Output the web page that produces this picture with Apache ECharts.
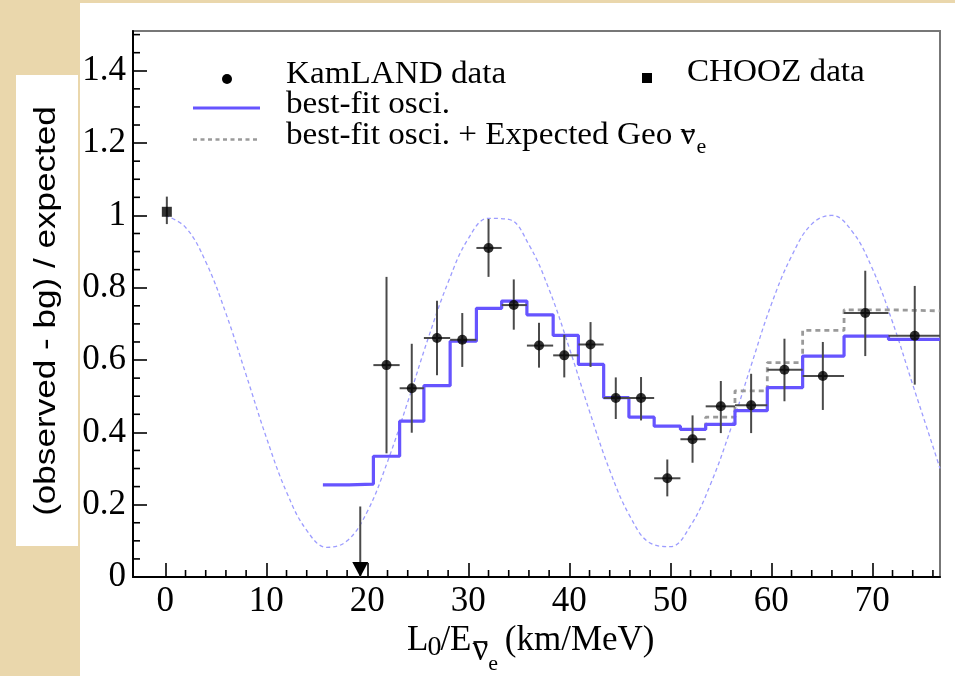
<!DOCTYPE html>
<html><head><meta charset="utf-8">
<script src="https://cdn.jsdelivr.net/npm/echarts@6/dist/echarts.min.js"></script>
<style>html,body{margin:0;padding:0;background:#fff}#c{width:955px;height:676px}</style>
</head><body><div id="c"></div>
<script>
// ---- data ----
const kamX  = [21.9,24.4,26.9,29.4,32.0,34.5,37.0,39.5,42.1,44.6,47.1,49.7,52.2,55.0,58.0,61.3,65.1,69.3,74.2];
const kamY  = [0.586,0.522,0.661,0.656,0.910,0.752,0.640,0.613,0.643,0.495,0.495,0.273,0.381,0.472,0.475,0.573,0.556,0.730,0.667];
const kamLo = [0.342,0.399,0.558,0.581,0.830,0.684,0.579,0.552,0.581,0.437,0.433,0.223,0.316,0.398,0.398,0.486,0.462,0.611,0.532];
const kamHi = [0.830,0.645,0.764,0.730,0.990,0.823,0.703,0.670,0.705,0.552,0.553,0.325,0.447,0.542,0.562,0.659,0.650,0.847,0.805];
const kamBinLo = [20.6,23.2,25.6,28.2,30.8,33.3,35.8,38.4,40.9,43.4,45.9,48.4,51.0,53.5,56.4,59.6,63.1,67.2,71.6];
const kamBinHi = [23.2,25.6,28.2,30.8,33.3,35.8,38.4,40.9,43.4,45.9,48.4,51.0,53.5,56.4,59.6,63.1,67.2,71.6,76.7];

const limitX = 19.3, limitTop = 0.195;

const choozX = 0.15, choozY = 1.01, choozLo = 0.976, choozHi = 1.052;

const fitEdges = [15.6,18.2,20.6,23.2,25.6,28.2,30.8,33.3,35.8,38.4,40.9,43.4,45.9,48.4,51.0,53.5,56.4,59.6,63.1,67.2,71.6,76.7];
const fitVals  = [0.255,0.257,0.334,0.431,0.529,0.652,0.743,0.763,0.725,0.668,0.588,0.496,0.442,0.417,0.408,0.422,0.460,0.524,0.611,0.666,0.657];

const geoEdges = [51.0,53.5,56.4,59.6,63.1,67.2,71.6,76.7];
const geoVals  = [0.408,0.442,0.515,0.593,0.682,0.739,0.736];

const curveX = [0,2,4,6,8,10,12,14,16,18,20,22,24,26,28,30,32,34,36,38,40,42,44,46,48,50,52,54,56,58,60,62,64,66,68,70,72,74,76,76.7];
const curveY = [1.0,0.967,0.872,0.729,0.559,0.386,0.235,0.129,0.082,0.100,0.181,0.319,0.484,0.658,0.815,0.936,0.992,0.989,0.919,0.795,0.633,0.458,0.295,0.168,0.094,0.084,0.142,0.258,0.411,0.585,0.754,0.887,0.976,1.0,0.956,0.853,0.705,0.532,0.361,0.30];

const xMajor = [0,10,20,30,40,50,60,70];
const xMajorLabels = ['0','10','20','30','40','50','60','70'];
const xMinor = [2,4,6,8,12,14,16,18,22,24,26,28,32,34,36,38,42,44,46,48,52,54,56,58,62,64,66,68,72,74,76];
const yMajor = [0,0.2,0.4,0.6,0.8,1.0,1.2,1.4];
const yMajorLabels = ['0','0.2','0.4','0.6','0.8','1','1.2','1.4'];
const yMinor = [0.05,0.1,0.15,0.25,0.3,0.35,0.45,0.5,0.55,0.65,0.7,0.75,0.85,0.9,0.95,1.05,1.1,1.15,1.25,1.3,1.35,1.45,1.5];

// ---- styling ----
const BLUE = '#6654ff', DASHBLUE = '#9c9cff', GRAY = '#9a9a9a', ERR = '#4a4a4a';
const SERIF = '"Liberation Serif", "Times New Roman", serif';
const SANS = '"Liberation Sans", Arial, sans-serif';
const X_MIN = -3.2, X_MAX = 76.7, Y_MIN = 0, Y_MAX = 1.51;

function steps(edges, vals){
  const pts = [];
  for (let i = 0; i < vals.length; i++) { pts.push([edges[i], vals[i]]); pts.push([edges[i+1], vals[i]]); }
  return pts;
}
function labelFor(values, labels){ return v => { for (let i=0;i<values.length;i++) if (Math.abs(values[i]-v)<1e-6) return labels[i]; return ''; }; }

const mctx = document.createElement('canvas').getContext('2d');
function tw(text, size){ mctx.font = size + 'px ' + SERIF; return mctx.measureText(text).width; }

function stext(text, x, y, size, extra){
  const o = { type:'text', x:x, y:y - 0.34*size, silent:true, z:50,
    style:{ text:text, fill:'#000', font: size + 'px ' + SERIF, textAlign:'left', textVerticalAlign:'middle', verticalAlign:'middle' } };
  return Object.assign(o, extra || {});
}

const graphics = [];
graphics.push({type:'rect', shape:{x:0,y:0,width:80,height:676}, style:{fill:'#ead7ac'}, z:-5, silent:true});
graphics.push({type:'rect', shape:{x:0,y:0,width:955,height:3}, style:{fill:'#ead7ac'}, z:-5, silent:true});
graphics.push({type:'rect', shape:{x:16,y:75,width:62,height:471}, style:{fill:'#ffffff'}, z:-4, silent:true});
graphics.push({type:'text', x:47, y:311, rotation:Math.PI/2, scaleX:1.17, silent:true, z:50,
  style:{text:'(observed - bg) / expected', fill:'#000', font:'30px ' + SANS, textAlign:'center', textVerticalAlign:'middle', verticalAlign:'middle'}});

const LS = 31, LSX = 1.07;
graphics.push({type:'circle', shape:{cx:227, cy:79, r:5}, style:{fill:'#000'}, z:50, silent:true});
graphics.push(stext('KamLAND data', 286, 85, LS, {scaleX:LSX}));
graphics.push({type:'rect', shape:{x:642, y:73, width:10, height:10}, style:{fill:'#000'}, z:50, silent:true});
graphics.push(stext('CHOOZ data', 687, 83.5, LS, {scaleX:LSX}));
graphics.push({type:'line', shape:{x1:193,y1:108,x2:260,y2:108}, style:{stroke:BLUE, lineWidth:3}, z:50, silent:true});
graphics.push(stext('best-fit osci.', 286, 115, LS, {scaleX:LSX}));
graphics.push({type:'line', shape:{x1:193,y1:139.5,x2:260,y2:139.5}, style:{stroke:GRAY, lineWidth:2.5, lineDash:[4,3.5]}, z:50, silent:true});
(function(){
  const t = 'best-fit osci. + Expected Geo ';
  graphics.push(stext(t, 286, 146.7, LS, {scaleX:LSX}));
  const nx = 286 + tw(t, LS)*LSX;
  const nw = tw('ν', LS)*LSX;
  graphics.push(stext('ν', nx, 146.7, LS, {scaleX:LSX}));
  graphics.push({type:'line', shape:{x1:nx+1,y1:131.5,x2:nx+nw-1,y2:131.5}, style:{stroke:'#000', lineWidth:1.6}, z:50, silent:true});
  graphics.push(stext('e', nx+nw+1, 155, 22, {}));
})();

(function(){
  let x = 407;
  const big = 35;
  graphics.push(stext('L', x, 653, big)); x += tw('L', big);
  graphics.push(stext('0', x - 1, 657, 28)); x += tw('0', 28) - 2;
  graphics.push(stext('/E', x, 653, big)); x += tw('/E', big) + 1;
  const nw = tw('ν', big);
  graphics.push(stext('ν', x, 663, big));
  graphics.push({type:'line', shape:{x1:x+1,y1:642,x2:x+nw-1,y2:642}, style:{stroke:'#000', lineWidth:1.8}, z:50, silent:true});
  x += nw;
  graphics.push(stext('e', x, 671.5, 22)); x += tw('e', 22);
  graphics.push(stext(' (km/MeV)', x - 2, 653, big));
})();

const chart = echarts.init(document.getElementById('c'), null, {renderer:'canvas'});
const axisLabelBase = {color:'#000', fontFamily:SERIF, fontSize:35};

const option = {
  animation:false,
  backgroundColor:'#ffffff',
  grid:{left:133, right:15, top:31, bottom:99, show:true, borderColor:'#777', borderWidth:2, backgroundColor:'transparent'},
  xAxis:{type:'value', min:X_MIN, max:X_MAX, position:'bottom',
     axisLine:{show:true, onZero:false, lineStyle:{color:'#000', width:2}},
     axisTick:{show:true, inside:true, length:14, customValues:xMajor, lineStyle:{color:'#000', width:1.6}},
     axisLabel:{show:true, customValues:xMajor, formatter:labelFor(xMajor, xMajorLabels), margin:7, ...axisLabelBase},
     splitLine:{show:false}},
  yAxis:{type:'value', min:Y_MIN, max:Y_MAX, position:'left',
     axisLine:{show:true, onZero:false, lineStyle:{color:'#000', width:2}},
     axisTick:{show:true, inside:true, length:14, customValues:yMajor, lineStyle:{color:'#000', width:1.6}},
     axisLabel:{show:true, customValues:yMajor, formatter:labelFor(yMajor, yMajorLabels), margin:7, ...axisLabelBase},
     splitLine:{show:false}},
  graphic: graphics,
  series:[
    {type:'custom', name:'xMinorTicks', z:1, silent:true, clip:false,
     data:xMinor.map(v=>[v, Y_MIN]),
     renderItem:function(params, api){
       const p = api.coord([api.value(0), Y_MIN]);
       return {type:'line', shape:{x1:p[0], y1:p[1], x2:p[0], y2:p[1]-7}, style:{stroke:'#000', lineWidth:1.6}};
     }},
    {type:'custom', name:'yMinorTicks', z:1, silent:true, clip:false,
     data:yMinor.map(v=>[X_MIN, v]),
     renderItem:function(params, api){
       const p = api.coord([X_MIN, api.value(1)]);
       return {type:'line', shape:{x1:p[0], y1:p[1], x2:p[0]+7, y2:p[1]}, style:{stroke:'#000', lineWidth:1.6}};
     }},
    {type:'line', name:'osc', data:curveX.map((x,i)=>[x, curveY[i]]), smooth:0.4, symbol:'none', clip:true,
     lineStyle:{color:DASHBLUE, width:1.3, type:[4,3]}, z:2},
    {type:'line', name:'geo', data:steps(geoEdges, geoVals), symbol:'none', clip:true,
     lineStyle:{color:GRAY, width:2.8, type:[5,4]}, z:3},
    {type:'line', name:'fit', data:steps(fitEdges, fitVals), symbol:'none', clip:true,
     lineStyle:{color:BLUE, width:3.2}, z:4},
    {type:'custom', name:'kamErr', z:5,
     data:kamX.map((x,i)=>[x, kamY[i], kamLo[i], kamHi[i], kamBinLo[i], kamBinHi[i]]),
     renderItem:function(params, api){
       const lo = api.coord([api.value(0), api.value(2)]);
       const hi = api.coord([api.value(0), api.value(3)]);
       const l = api.coord([api.value(4), api.value(1)]);
       const r = api.coord([api.value(5), api.value(1)]);
       return {type:'group', children:[
         {type:'line', shape:{x1:lo[0],y1:lo[1],x2:hi[0],y2:hi[1]}, style:{stroke:ERR, lineWidth:2}},
         {type:'line', shape:{x1:l[0],y1:l[1],x2:r[0],y2:r[1]}, style:{stroke:ERR, lineWidth:2}}
       ]};
     }},
    {type:'custom', name:'limit', z:5, data:[[limitX, limitTop]], clip:false,
     renderItem:function(params, api){
       const top = api.coord([api.value(0), api.value(1)]);
       const bot = api.coord([api.value(0), 0]);
       return {type:'group', children:[
         {type:'line', shape:{x1:top[0],y1:top[1],x2:bot[0],y2:bot[1]}, style:{stroke:ERR, lineWidth:2}},
         {type:'polygon', shape:{points:[[bot[0]-8, bot[1]-15],[bot[0]+8, bot[1]-15],[bot[0], bot[1]]]}, style:{fill:'#000'}}
       ]};
     }},
    {type:'custom', name:'choozErr', z:5, data:[[choozX, choozY, choozLo, choozHi]],
     renderItem:function(params, api){
       const lo = api.coord([api.value(0), api.value(2)]);
       const hi = api.coord([api.value(0), api.value(3)]);
       return {type:'line', shape:{x1:lo[0],y1:lo[1],x2:hi[0],y2:hi[1]}, style:{stroke:ERR, lineWidth:2}};
     }},
    {type:'scatter', name:'CHOOZ data', data:[[choozX, choozY]], symbol:'rect', symbolSize:10,
     itemStyle:{color:'#000'}, z:6},
    {type:'scatter', name:'KamLAND data', data:kamX.map((x,i)=>[x, kamY[i]]), symbol:'circle', symbolSize:10,
     itemStyle:{color:'#000'}, z:6}
  ]
};
chart.setOption(option);
</script>
</body></html>
